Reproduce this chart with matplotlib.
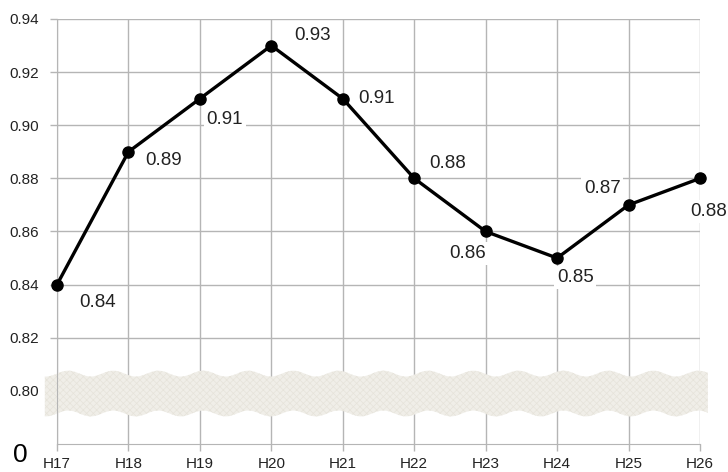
import numpy as np
import matplotlib.pyplot as plt

plt.rcParams['font.family'] = ['Liberation Sans', 'DejaVu Sans']
plt.rcParams['hatch.linewidth'] = 0.5

years = ["H17", "H18", "H19", "H20", "H21", "H22", "H23", "H24", "H25", "H26"]
values = [0.84, 0.89, 0.91, 0.93, 0.91, 0.88, 0.86, 0.85, 0.87, 0.88]
y_ticks = [0.80, 0.82, 0.84, 0.86, 0.88, 0.90, 0.92, 0.94]

# label offsets in points (dx, dy) from each marker
label_offsets = [(29, -13), (25, -6), (18, -15), (30, 7), (24, 0),
                 (24, 11), (-13, -16), (13, -14), (-19, 12), (6, -24)]

fig = plt.figure(figsize=(7.28, 4.72), dpi=100)
ax = fig.add_axes([57 / 728, 1 - 444 / 472, 643 / 728, 425 / 472])

x = np.arange(len(years))
grid_c = "#b5b5b5"

ax.set_xlim(0, len(years) - 1)
ax.set_ylim(0.78, 0.94)
ax.set_xticks(x)
ax.set_xticklabels(years)
ax.set_yticks(y_ticks)
ax.set_yticklabels([f"{v:.2f}" for v in y_ticks])
ax.grid(True, color=grid_c, linewidth=1)
ax.set_axisbelow(True)
for side in ax.spines:
    ax.spines[side].set_color(grid_c)
ax.spines["top"].set_visible(False)
ax.spines["right"].set_visible(False)
ax.tick_params(axis="both", color=grid_c, length=5, width=1, labelsize=11,
               labelcolor="#222222")
ax.tick_params(axis="y", pad=8)
ax.tick_params(axis="x", pad=4)

# wavy axis-break band
bx = np.linspace(-0.17, 9.11, 600)
wave = 0.0011 * np.sin(2 * np.pi * bx / 0.63)
ax.fill_between(bx, 0.7915 + wave, 0.8065 + wave, facecolor="#f0eee8",
                edgecolor="#e6e3da", hatch="xxxxx", linewidth=0,
                zorder=2, clip_on=False)

ax.plot(x, values, color="black", linewidth=2.4, marker="o", markersize=8,
        zorder=4, clip_on=False)

for xi, v, (dx, dy) in zip(x, values, label_offsets):
    ax.annotate(f"{v:.2f}", (xi, v), xytext=(dx, dy), textcoords="offset points",
                ha="center", va="center", fontsize=13.5, color="#222222", zorder=5,
                bbox=dict(boxstyle="square,pad=0.15", fc="white", ec="none"))

fig.text(20 / 728, 1 - 455 / 472, "0", fontsize=19, ha="center", va="center")

fig.savefig("out.png", dpi=100)
